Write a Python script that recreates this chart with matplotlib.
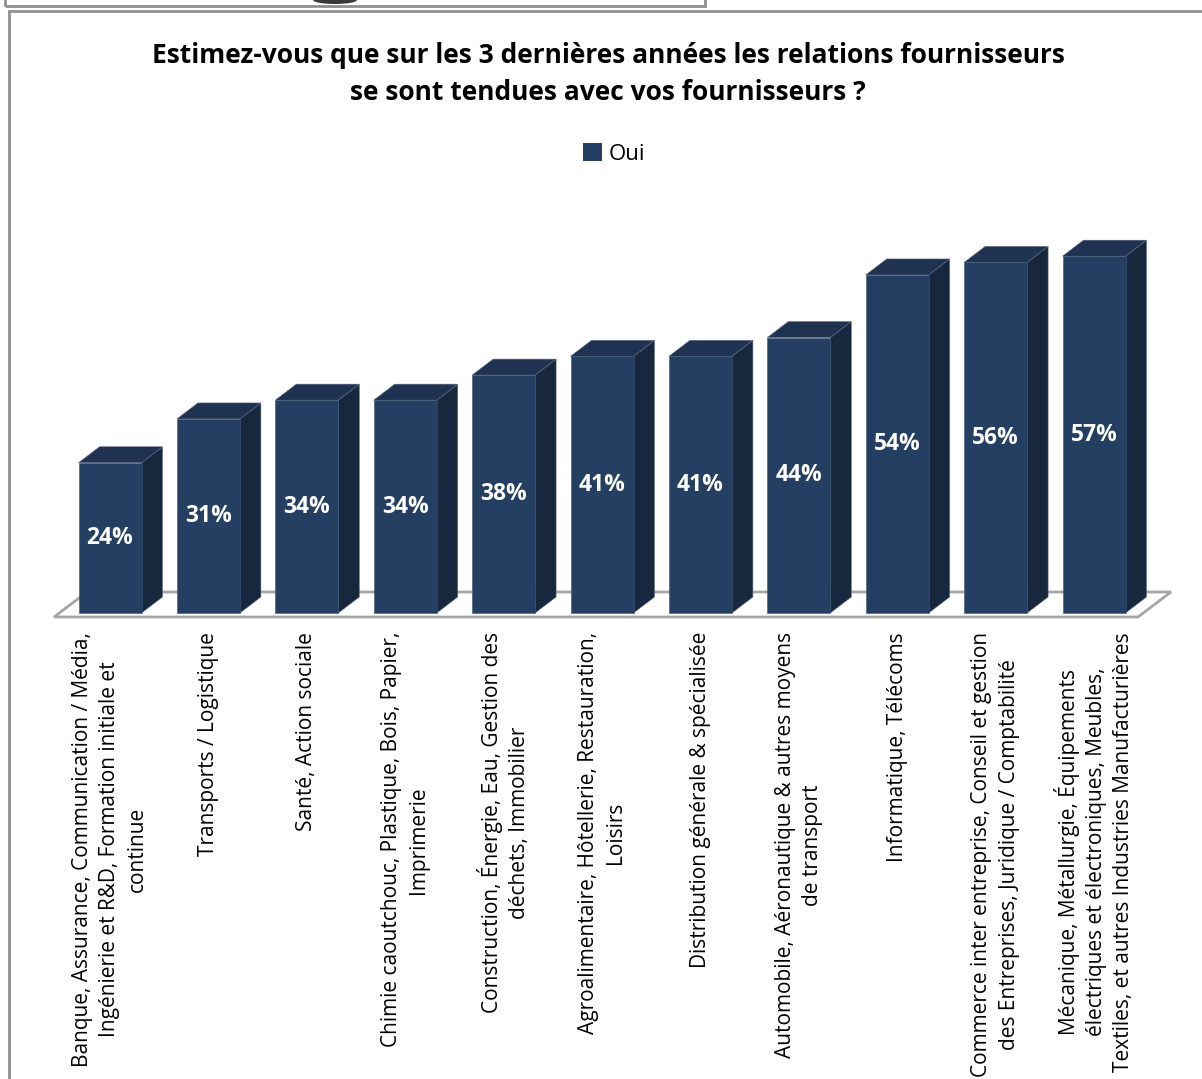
import matplotlib as mpl
mpl.use("Agg")
from matplotlib import pyplot as plt
from matplotlib.patches import Rectangle, Polygon, Patch, Ellipse

plt.rcParams['font.family'] = ['Open Sans', 'DejaVu Sans']

# data
categories = [
    "Banque, Assurance, Communication / Média,\nIngénierie et R&D, Formation initiale et\ncontinue",
    "Transports / Logistique",
    "Santé, Action sociale",
    "Chimie caoutchouc, Plastique, Bois, Papier,\nImprimerie",
    "Construction, Énergie, Eau, Gestion des\ndéchets, Immobilier",
    "Agroalimentaire, Hôtellerie, Restauration,\nLoisirs",
    "Distribution générale & spécialisée",
    "Automobile, Aéronautique & autres moyens\nde transport",
    "Informatique, Télécoms",
    "Commerce inter entreprise, Conseil et gestion\ndes Entreprises, Juridique / Comptabilité",
    "Mécanique, Métallurgie, Équipements\nélectriques et électroniques, Meubles,\nTextiles, et autres Industries Manufacturières",
]
oui = [24, 31, 34, 34, 38, 41, 41, 44, 54, 56, 57]
series_name = "Oui"
title = ("Estimez-vous que sur les 3 dernières années les relations fournisseurs\n"
         "se sont tendues avec vos fournisseurs ?")

# colours
c_front = '#243f61'
c_side = '#17283e'
c_top = '#1f3251'
c_grey = '#8f8f8f'

W, H = 1202, 1079
fig = plt.figure(figsize=(W/100, H/100), dpi=100)

# outer frames (figure pixel coords, y from top)
def px_rect(x0, y0, x1, y1, **kw):
    return Rectangle((x0/W, 1 - y1/H), (x1 - x0)/W, (y1 - y0)/H,
                     transform=fig.transFigure, fill=False, **kw)

fig.patches.append(px_rect(5, -20, 705, 6, edgecolor=c_grey, lw=2))
fig.patches.append(px_rect(9, 11, W + 20, H + 20, edgecolor=c_grey, lw=2))
fig.patches.append(Ellipse((335/W, 1 - 0/H), 44/W, 8/H, transform=fig.transFigure,
                           facecolor='#3a3a3a', edgecolor='none'))

# axes laid out so that one category = 98.4 px and 1 % = 6.26 px
ax_l, ax_r, ax_t, ax_b = 40, 1190, 200, 640
ax = fig.add_axes([ax_l/W, 1 - ax_b/H, (ax_r - ax_l)/W, (ax_b - ax_t)/H])
x0_px, dx_px = 110, 98.4
y0_px, dy_px = 613, 6.26
ax.set_xlim((ax_l - x0_px)/dx_px, (ax_r - x0_px)/dx_px)
ax.set_ylim((y0_px - ax_b)/dy_px, (y0_px - ax_t)/dy_px)
ax.axis('off')

n = len(oui)
bar_w = 63/dx_px
depth_x, depth_y = 21/dx_px, 16/dy_px

# floor
fl_front, fl_back = -4/dy_px, 21/dy_px
fl_left, fl_right = -56/dx_px, (n - 1) + 44/dx_px
fl_dx = 33/dx_px
ax.add_patch(Polygon([(fl_left, fl_front), (fl_right, fl_front),
                      (fl_right + fl_dx, fl_back), (fl_left + fl_dx, fl_back)],
                     closed=True, facecolor='white', edgecolor='#a6a6a6', lw=2,
                     joinstyle='miter', zorder=1))

# 3d bars
for i, v in enumerate(oui):
    xl = i - bar_w/2
    xr = i + bar_w/2
    side = Polygon([(xr, 0), (xr + depth_x, depth_y), (xr + depth_x, v + depth_y), (xr, v)],
                   closed=True, facecolor=c_side, edgecolor='#5d6b80', lw=0.4, zorder=2)
    top = Polygon([(xl, v), (xr, v), (xr + depth_x, v + depth_y), (xl + depth_x, v + depth_y)],
                  closed=True, facecolor=c_top, edgecolor='#5d6b80', lw=0.4, zorder=2)
    front = Rectangle((xl, 0), bar_w, v, facecolor=c_front, edgecolor='#3d5575',
                      lw=0.4, zorder=3)
    ax.add_patch(side)
    ax.add_patch(top)
    ax.add_patch(front)
    ax.text(i, v/2, f'{v}%', ha='center', va='center', color='white',
            fontsize=16.5, fontweight='bold', zorder=4)

# category labels
for i, lab in enumerate(categories):
    ax.text(i, -19/dy_px, lab, rotation=90, ha='center', va='top',
            multialignment='center', fontsize=15, linespacing=1.39, color='black')

# title
fig.text(608/W, 1 - 42/H, title, ha='center', va='top', fontsize=19,
         fontweight='bold', linespacing=1.5, color='black')

# legend
fig.legend(handles=[Patch(facecolor=c_front, edgecolor='none', label=series_name)],
           loc='center', bbox_to_anchor=(614/W, 1 - 154/H), frameon=False,
           fontsize=16, handlelength=0.85, handleheight=0.85, handletextpad=0.3)

fig.savefig('out.png', dpi=100)
